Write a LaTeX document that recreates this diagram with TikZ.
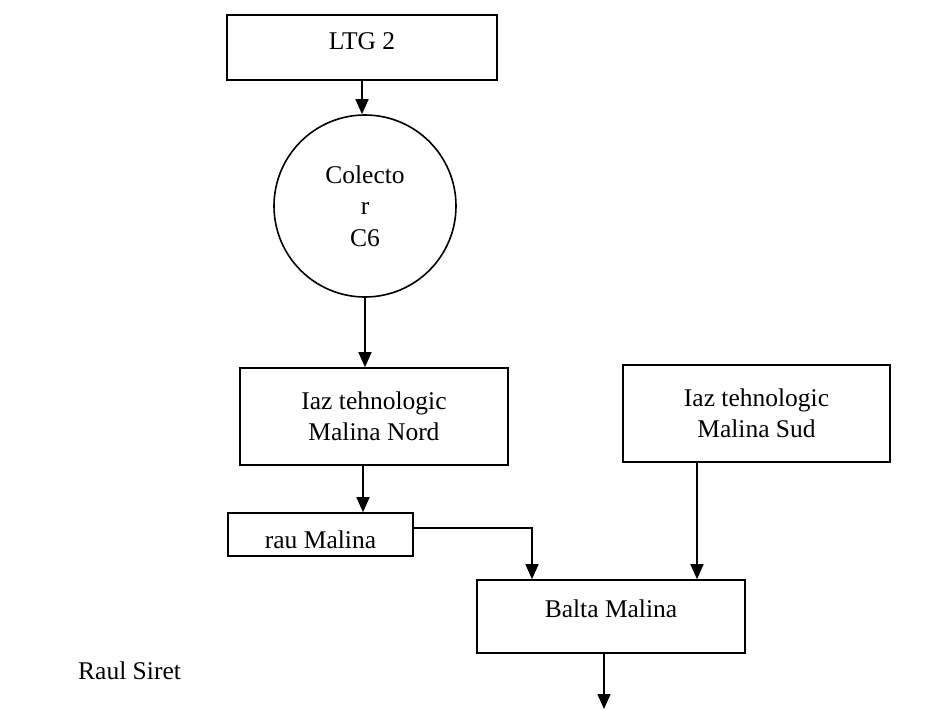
\documentclass[tikz,border=0pt]{standalone}
\usepackage{fontspec}
\setmainfont{Liberation Serif}
\usetikzlibrary{arrows.meta,calc}
\begin{document}
\begin{tikzpicture}[x=1pt,y=-1pt,
  box/.style={draw, line width=1.6pt, rectangle, inner sep=0pt, align=center,
    font=\fontsize{25.5}{31.5}\selectfont},
  circ/.style={draw, line width=1.6pt, circle, inner sep=0pt, align=center,
    minimum size=182pt, font=\fontsize{25.5}{31.5}\selectfont},
  arr/.style={line width=1.6pt, -{Triangle[width=13pt,length=15pt]}},
  lbl/.style={font=\fontsize{25.5}{31.5}\selectfont, inner sep=0pt}]
\useasboundingbox[fill=white] (0,0) rectangle (939,709);
\node[box, minimum width=270pt, minimum height=65pt, text depth=12pt] (ltg) at (362,47.5) {LTG 2};
\node[circ] (col) at (365,206) {Colecto\\r\\C6};
\node[box, minimum width=268pt, minimum height=97pt] (nord) at (374,416.5) {Iaz tehnologic\\Malina Nord};
\node[box, minimum width=267pt, minimum height=97pt] (sud) at (756.5,413.5) {Iaz tehnologic\\Malina Sud};
\node[box, minimum width=185pt, minimum height=43pt, text height=27pt, text depth=0pt] (rau) at (320.5,534.5) {rau Malina};
\node[box, minimum width=268pt, minimum height=73pt, text depth=16pt] (balta) at (611,616.5) {Balta Malina};
\node[lbl, anchor=base west] (siret) at (78,679) {Raul Siret};
\coordinate (out) at (604,709);
\draw[arr] (ltg.south) -- (ltg.south |- col.north);
\draw[arr] (col.south) -- (col.south |- nord.north);
\draw[arr] ([xshift=-11pt]nord.south) -- ([xshift=-11pt]nord.south |- rau.north);
\draw[arr] ([yshift=6.5pt]rau.east) -| ([xshift=-79pt]balta.north);
\draw[arr] ([xshift=-59.5pt]sud.south) -- ([xshift=-59.5pt]sud.south |- balta.north);
\draw[arr] ([xshift=-7pt]balta.south) -- (out);
\end{tikzpicture}
\end{document}
